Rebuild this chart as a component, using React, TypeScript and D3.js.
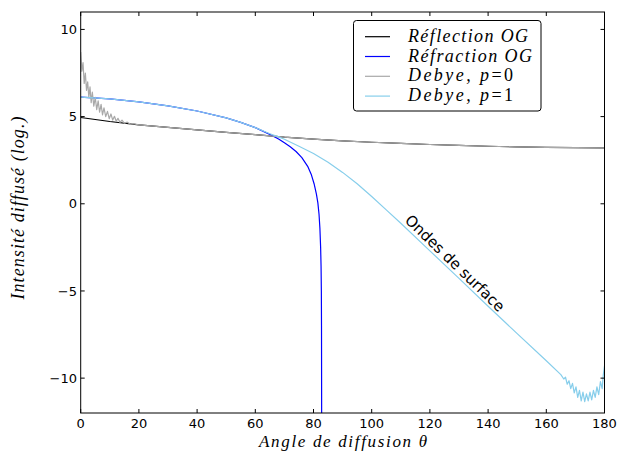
import React from "react";
import * as d3 from "d3";

// ---------- data ----------
const reflTheta = [0, 10, 20, 30, 40, 50, 60, 70, 80, 90, 100, 110, 120, 130, 140, 150, 160, 170, 180];
const reflValue = [4.95, 4.72, 4.53, 4.38, 4.24, 4.1, 3.97, 3.82, 3.71, 3.61, 3.53, 3.46, 3.4, 3.35, 3.3, 3.26, 3.23, 3.22, 3.21];

const refrTheta = [0, 10, 20, 30, 40, 50, 55, 60, 65, 68, 70, 72, 74, 76, 78, 79.2, 80.2, 81, 81.5, 81.9, 82.2, 82.45, 82.6, 82.7, 82.75, 82.8];
const refrValue = [6.12, 6.02, 5.85, 5.62, 5.32, 4.93, 4.67, 4.37, 3.98, 3.72, 3.5, 3.27, 3.0, 2.65, 2.15, 1.7, 1.15, 0.55, 0.05, -0.6, -1.4, -2.5, -3.6, -5.0, -7.0, -12];

const debye0Theta = [0, 0.4, 0.8, 1.2, 1.6, 2.0, 2.4, 2.8, 3.2, 3.6, 4.0, 4.5, 5.0, 5.5, 6.0, 6.5, 7.0, 7.5, 8.0, 8.6, 9.2, 9.8, 10.4, 11.0, 11.6, 12.2, 12.8, 13.5, 14.2, 15, 16, 17, 18, 20, 30, 40, 50, 60, 70, 80, 90, 100, 110, 120, 130, 140, 150, 160, 170, 180];
const debye0Value = [8.7, 7.6, 8.1, 6.9, 7.5, 6.5, 7.0, 6.1, 6.7, 5.8, 6.4, 5.6, 6.1, 5.4, 5.9, 5.25, 5.7, 5.1, 5.5, 5.0, 5.3, 4.88, 5.15, 4.8, 5.02, 4.73, 4.9, 4.67, 4.8, 4.62, 4.68, 4.57, 4.6, 4.53, 4.38, 4.24, 4.1, 3.97, 3.82, 3.71, 3.61, 3.53, 3.46, 3.4, 3.35, 3.3, 3.26, 3.23, 3.22, 3.21];

const debye1Theta = [0, 10, 20, 30, 40, 50, 55, 60, 65, 68, 70, 75, 80, 85, 90, 95, 100, 105, 110, 120, 130, 140, 150, 160, 165, 166, 166.6, 167.2, 167.8, 168.4, 169, 169.6, 170.2, 170.8, 171.4, 172, 172.6, 173.2, 173.8, 174.4, 175, 175.6, 176.2, 176.8, 177.4, 178, 178.6, 179.2, 179.6, 180];
const debye1Value = [6.12, 6.02, 5.85, 5.62, 5.32, 4.93, 4.67, 4.37, 4.02, 3.84, 3.7, 3.3, 2.88, 2.38, 1.8, 1.15, 0.42, -0.35, -1.12, -2.7, -4.28, -5.88, -7.45, -9.0, -9.8, -10.05, -9.95, -10.35, -10.15, -10.6, -10.3, -10.85, -10.5, -11.1, -10.7, -11.3, -10.8, -11.35, -10.9, -11.3, -10.8, -11.25, -10.7, -11.1, -10.5, -10.95, -10.2, -10.6, -9.8, -9.3];

const xTicks = [0, 20, 40, 60, 80, 100, 120, 140, 160, 180];
const yTicks = [-10, -5, 0, 5, 10];

const seriesNames = ["Réflection OG", "Réfraction OG", "Debye, p=0", "Debye, p=1"];
const seriesColors = ["#000000", "#0000ff", "#a9a9a9", "#87ceeb"];

const annotText = "Ondes de surface";
const annotTheta = 128.6;
const annotValue = -3.4;

// ---------- layout ----------
const W = 618, H = 452;
const L = 80.7, R = 604.5, T = 12, B = 413;

export default function App() {
  const x = d3.scaleLinear().domain([0, 180]).range([L, R]);
  const y = d3.scaleLinear().domain([-12, 11]).range([B, T]);
  const mk = (th: number[], v: number[]) =>
    d3.line<number>().x((_, i) => x(th[i])).y((_, i) => y(v[i]))(v) || "";

  const paths = [
    mk(reflTheta, reflValue),
    mk(refrTheta, refrValue),
    mk(debye0Theta, debye0Value),
    mk(debye1Theta, debye1Value),
  ];

  const serif = "'Liberation Serif', 'DejaVu Serif', serif";
  const sans = "'DejaVu Sans', sans-serif";
  const legendLens = [120, 124, 105, 105];

  return (
    <svg width={W} height={H} style={{ position: "absolute", left: 0, top: 0, background: "#fff" }}>
      <defs>
        <clipPath id="plot">
          <rect x={L} y={T} width={R - L} height={B - T} />
        </clipPath>
      </defs>
      <rect x={0} y={0} width={W} height={H} fill="#fff" />
      <g clipPath="url(#plot)" fill="none" strokeWidth={1.2} strokeLinejoin="round">
        {paths.map((d, i) => (
          <path key={i} d={d} stroke={seriesColors[i]} />
        ))}
      </g>
      {/* frame */}
      <rect x={L} y={T} width={R - L} height={B - T} fill="none" stroke="#000" strokeWidth={1} />
      {/* ticks */}
      {xTicks.map((t) => (
        <g key={"x" + t}>
          <line x1={x(t)} x2={x(t)} y1={B} y2={B - 4} stroke="#000" />
          <line x1={x(t)} x2={x(t)} y1={T} y2={T + 4} stroke="#000" />
          <text x={x(t)} y={428} textAnchor="middle" fontFamily={sans} fontSize={13}>
            {t}
          </text>
        </g>
      ))}
      {yTicks.map((t) => (
        <g key={"y" + t}>
          <line x1={L} x2={L + 4} y1={y(t)} y2={y(t)} stroke="#000" />
          <line x1={R} x2={R - 4} y1={y(t)} y2={y(t)} stroke="#000" />
          <text x={77} y={y(t)} dy="0.36em" textAnchor="end" fontFamily={sans} fontSize={13}>
            {t < 0 ? "\u2212" + Math.abs(t) : String(t)}
          </text>
        </g>
      ))}
      {/* axis labels */}
      <text x={343} y={447} textAnchor="middle" fontFamily={serif} fontStyle="italic" fontSize={17} textLength={168} lengthAdjust="spacing">
        Angle de diffusion θ
      </text>
      <text
        transform={`translate(24,208) rotate(-90)`}
        textAnchor="middle"
        fontFamily={serif}
        fontStyle="italic"
        fontSize={18}
        textLength={183}
        lengthAdjust="spacing"
      >
        Intensité diffusé (log.)
      </text>
      {/* annotation */}
      <text
        transform={`translate(${x(annotTheta)},${y(annotValue)}) rotate(44)`}
        textAnchor="middle"
        dy="0.35em"
        fontFamily={sans}
        fontSize={15}
      >
        {annotText}
      </text>
      {/* legend */}
      <rect x={353.5} y={20.5} width={187.5} height={90.5} rx={3} fill="#fff" stroke="#000" strokeWidth={1} />
      {seriesNames.map((n, i) => {
        const yy = 36.7 + i * 19.8;
        return (
          <g key={n}>
            <line x1={365} x2={390} y1={yy} y2={yy} stroke={seriesColors[i]} strokeWidth={1.2} />
            <text x={408} y={yy + 5} fontFamily={serif} fontStyle="italic" fontSize={18} textLength={legendLens[i]} lengthAdjust="spacing">
              {i < 2 ? (
                n
              ) : (
                <>
                  Debye, p<tspan fontStyle="normal">={n.slice(-1)}</tspan>
                </>
              )}
            </text>
          </g>
        );
      })}
    </svg>
  );
}
